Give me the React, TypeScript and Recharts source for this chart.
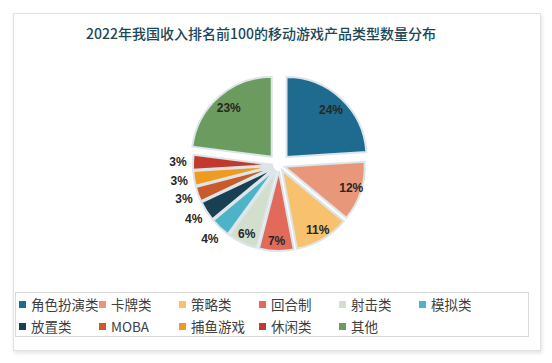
import React from "react";
import { PieChart, Pie, Cell, Sector } from "recharts";

const categories = [
  "角色扮演类",
  "卡牌类",
  "策略类",
  "回合制",
  "射击类",
  "模拟类",
  "放置类",
  "MOBA",
  "捕鱼游戏",
  "休闲类",
  "其他",
];
const shares = [24, 12, 11, 7, 6, 4, 4, 3, 3, 3, 23];
const colors = [
  "#1f6b8f",
  "#e8977b",
  "#f8c16d",
  "#e26a5b",
  "#d2dfcd",
  "#4db4c8",
  "#183f52",
  "#c95a2b",
  "#f19a20",
  "#c23a2c",
  "#6b9b5e",
];

const data = categories.map((name, i) => ({ name, value: shares[i] }));

const RAD = Math.PI / 180;

// pull every slice outwards a little, the two big ones further
const ExplodedSector = (props: any) => {
  const { cx, cy, midAngle, value } = props;
  const d = value >= 20 ? 11 : 6;
  return (
    <Sector
      {...props}
      cx={cx + d * Math.cos(-midAngle * RAD)}
      cy={cy + d * Math.sin(-midAngle * RAD)}
      stroke="#dce5ea"
      strokeWidth={2}
    />
  );
};

const renderLabel = (props: any) => {
  const { cx, cy, midAngle, outerRadius, value } = props;
  const r = value >= 5 ? outerRadius - 4 : outerRadius + 21;
  const x = cx + r * Math.cos(-midAngle * RAD);
  const y = cy + r * Math.sin(-midAngle * RAD);
  return (
    <text
      x={x}
      y={y}
      textAnchor="middle"
      dominantBaseline="central"
      fontSize={12}
      fontWeight="bold"
      fill="#262626"
      fontFamily="'Liberation Sans', Arial, sans-serif"
    >
      {value}%
    </text>
  );
};

export default function App() {
  return (
    <div
      style={{
        position: "absolute",
        left: 0,
        top: 0,
        width: 552,
        height: 363,
        background: "#ffffff",
        fontFamily: "'Noto Sans CJK SC', sans-serif",
      }}
    >
      <div
        style={{
          position: "absolute",
          left: 13,
          top: 13,
          width: 526,
          height: 336,
          border: "1px solid #e2e2e2",
          boxShadow: "1px 2px 4px rgba(0,0,0,0.12)",
          background: "#fff",
        }}
      />
      <div
        style={{
          position: "absolute",
          left: 0,
          top: 23,
          width: 522,
          textAlign: "center",
          fontSize: 14,
          color: "#1b4756",
          fontWeight: 500,
        }}
      >
        2022年我国收入排名前100的移动游戏产品类型数量分布
      </div>
      <div style={{ position: "absolute", left: 0, top: 0 }}>
        <PieChart width={552} height={290}>
          <Pie
            data={data}
            dataKey="value"
            nameKey="name"
            cx={274}
            cy={160}
            outerRadius={80}
            startAngle={90}
            endAngle={-270}
            shape={ExplodedSector}
            label={renderLabel}
            labelLine={false}
            isAnimationActive={false}
          >
            {data.map((entry, i) => (
              <Cell key={entry.name} fill={colors[i]} />
            ))}
          </Pie>
        </PieChart>
      </div>
      <div
        style={{
          position: "absolute",
          left: 15,
          top: 292,
          width: 514,
          height: 45,
          border: "1px solid #d9d9d9",
          boxSizing: "border-box",
          display: "grid",
          gridTemplateColumns: "repeat(6, 80px)",
          gridAutoRows: "22px",
          paddingLeft: 3,
          paddingTop: 0,
        }}
      >
        {data.map((entry, i) => (
          <div
            key={entry.name}
            style={{
              display: "flex",
              alignItems: "center",
              fontSize: 13.5,
              color: "#404040",
              whiteSpace: "nowrap",
            }}
          >
            <span
              style={{
                width: 7,
                height: 7,
                background: colors[i],
                marginRight: 5,
                flexShrink: 0,
              }}
            />
            {entry.name}
          </div>
        ))}
      </div>
    </div>
  );
}
